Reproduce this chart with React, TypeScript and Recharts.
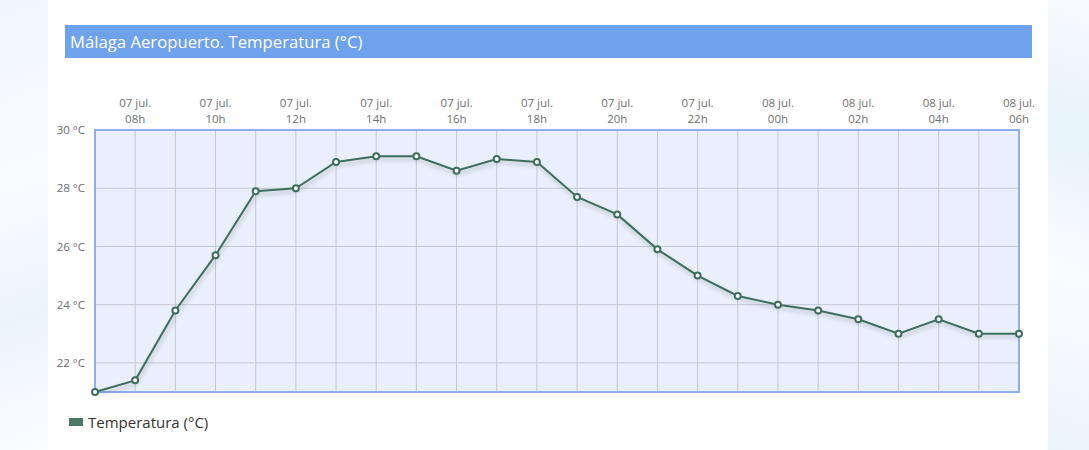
import { LineChart, Line, XAxis, YAxis, CartesianGrid, ReferenceArea } from "recharts";

const days = [
  "07 jul.", "07 jul.", "07 jul.", "07 jul.", "07 jul.", "07 jul.", "07 jul.", "07 jul.",
  "07 jul.", "07 jul.", "07 jul.", "07 jul.", "07 jul.", "07 jul.", "07 jul.", "07 jul.",
  "07 jul.", "08 jul.", "08 jul.", "08 jul.", "08 jul.", "08 jul.", "08 jul.", "08 jul.",
];
const hours = [
  "07h", "08h", "09h", "10h", "11h", "12h", "13h", "14h", "15h", "16h", "17h", "18h",
  "19h", "20h", "21h", "22h", "23h", "00h", "01h", "02h", "03h", "04h", "05h", "06h",
];
const temperatures = [
  21.0, 21.4, 23.8, 25.7, 27.9, 28.0, 28.9, 29.1, 29.1, 28.6, 29.0, 28.9,
  27.7, 27.1, 25.9, 25.0, 24.3, 24.0, 23.8, 23.5, 23.0, 23.5, 23.0, 23.0,
];
const yTicks = [22, 24, 26, 28, 30];

const data = hours.map((h, i) => ({ key: `${days[i]} ${h}`, day: days[i], hour: h, temp: temperatures[i] }));

const FONT = "'Open Sans', sans-serif";
const GREEN = "#3f6e5c";

const TopTick = (props: any) => {
  const { x, y, index } = props;
  if (index % 2 === 0) return null;
  const d = data[index];
  return (
    <g transform={`translate(${x},${y})`}>
      <text textAnchor="middle" x={0} y={-15} fontSize={11.5} fill="#707070" fontFamily={FONT}>{d.day}</text>
      <text textAnchor="middle" x={0} y={1} fontSize={11.5} fill="#707070" fontFamily={FONT}>{d.hour}</text>
    </g>
  );
};

export default function App() {
  return (
    <div style={{ position: "absolute", left: 0, top: 0, width: 1089, height: 450, background: "#ffffff", fontFamily: FONT, overflow: "hidden" }}>
      <style>{`.temp-line .recharts-line-curve { filter: drop-shadow(1px 3px 2px rgba(0,0,0,0.22)); }`}</style>
      <div style={{ position: "absolute", left: 0, top: 0, width: 48, height: 450, background: "linear-gradient(160deg, #eef7fc 0%, #f8fcfe 40%, #eaf5fb 70%, #fbfdff 100%)" }} />
      <div style={{ position: "absolute", left: 1048, top: 0, width: 41, height: 450, background: "linear-gradient(200deg, #f6fbfe 0%, #e6f3fa 30%, #f9fcfe 60%, #eaf5fb 100%)" }} />
      <div style={{ position: "absolute", left: 65, top: 25, width: 967, height: 33, background: "#6fa2ec", color: "#ffffff", fontSize: 16.7, lineHeight: "33px", paddingLeft: 5, boxSizing: "border-box" }}>
        Málaga Aeropuerto. Temperatura (°C)
      </div>
      <div style={{ position: "absolute", left: 0, top: 0 }}>
        <LineChart width={1089} height={450} data={data} margin={{ top: 90, right: 70, bottom: 58, left: 35 }}>
          <CartesianGrid stroke="#c3c8d2" strokeWidth={1} fill="#e9f0fb" />
          <XAxis
            dataKey="key"
            orientation="top"
            height={40}
            interval={0}
            tick={<TopTick />}
            tickLine={false}
            axisLine={false}
            padding={{ left: 0, right: 0 }}
          />
          <YAxis
            domain={[21, 30]}
            ticks={yTicks}
            width={60}
            tickLine={false}
            axisLine={false}
            tickMargin={4}
            tick={{ fontSize: 11.5, fill: "#707070", fontFamily: FONT }}
            tickFormatter={(v: number) => `${v} °C`}
          />
          <ReferenceArea
            x1={data[0].key}
            x2={data[data.length - 1].key}
            y1={21}
            y2={30}
            fill="none"
            stroke="#8db0ea"
            strokeWidth={2}
          />
          <Line
            className="temp-line"
            type="linear"
            dataKey="temp"
            stroke={GREEN}
            strokeWidth={2}
            dot={{ r: 3, fill: "#ffffff", stroke: GREEN, strokeWidth: 2 }}
            activeDot={false}
            isAnimationActive={false}
          />
        </LineChart>
      </div>
      <div style={{ position: "absolute", left: 69, top: 412, display: "flex", alignItems: "center", fontSize: 15, color: "#333333" }}>
        <span style={{ display: "inline-block", width: 14, height: 8, background: "#4a7a66", marginRight: 5 }} />
        Temperatura (°C)
      </div>
    </div>
  );
}
